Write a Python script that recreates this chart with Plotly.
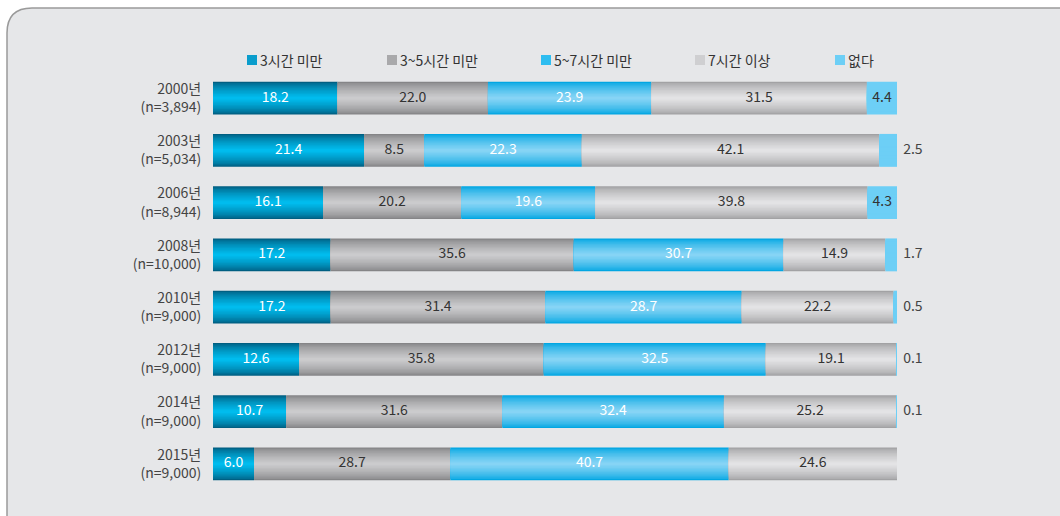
import plotly.graph_objects as go

# ---------------- data ----------------
years = ["2000년", "2003년", "2006년", "2008년", "2010년", "2012년", "2014년", "2015년"]
samples = ["n=3,894", "n=5,034", "n=8,944", "n=10,000", "n=9,000", "n=9,000", "n=9,000", "n=9,000"]
series_names = ["3시간 미만", "3~5시간 미만", "5~7시간 미만", "7시간 이상", "없다"]
under3 = [18.2, 21.4, 16.1, 17.2, 17.2, 12.6, 10.7, 6.0]
h3to5 = [22.0, 8.5, 20.2, 35.6, 31.4, 35.8, 31.6, 28.7]
h5to7 = [23.9, 22.3, 19.6, 30.7, 28.7, 32.5, 32.4, 40.7]
over7 = [31.5, 42.1, 39.8, 14.9, 22.2, 19.1, 25.2, 24.6]
none_ = [4.4, 2.5, 4.3, 1.7, 0.5, 0.1, 0.1, 0.0]

series_values = [under3, h3to5, h5to7, over7, none_]

# ---------------- styles ----------------
edge_colors = ["#005f82", "#858587", "#02a6e2", "#a2a2a4", "#6dcff6"]
center_colors = ["#00bcee", "#cbcbcd", "#86d4f5", "#e3e3e5", "#6dcff6"]
legend_colors = ["#0a9dcc", "#a9a9ab", "#2ebdf0", "#cfcfd1", "#6dcff6"]
label_colors = ["white", "#333333", "white", "#333333", "#333333"]

FONT = "Noto Sans CJK KR"
FS = 14
W, H = 1060, 516
PL, PR, PT, PB = 213, 897, 72, 490  # 0%..100% bar span and row band in pixels
PR_AREA = 980                       # right edge of the plot area (room for outside labels)
X_MAX = 100 * (PR_AREA - PL) / (PR - PL)

categories = [f"{y}<br>({n})" for y, n in zip(years, samples)]


def hex2rgb(h):
    h = h.lstrip("#")
    return tuple(int(h[i:i + 2], 16) for i in (0, 2, 4))


def mix(c1, c2, t):
    a, b = hex2rgb(c1), hex2rgb(c2)
    return "rgb(%d,%d,%d)" % tuple(round(a[i] + (b[i] - a[i]) * t) for i in range(3))


def px_x(p):
    return (p - PL) / (PR_AREA - PL)


def px_y(p):
    return (PB - p) / (PB - PT)


# normalise each row to 100% of the bar length
row_tot = [sum(s[i] for s in series_values) for i in range(len(years))]
norm = [[s[i] / row_tot[i] * 100 for i in range(len(years))] for s in series_values]
bases = []
acc = [0.0] * len(years)
for s in norm:
    bases.append(acc[:])
    acc = [acc[i] + s[i] for i in range(len(years))]

fig = go.Figure()

BAR_W = 0.63
N = 12
for si, s in enumerate(norm):
    for k in range(N):
        t = (k / (N - 1)) ** 0.7
        w = BAR_W * (1 - k / N)
        fig.add_trace(go.Bar(
            orientation="h",
            x=s, y=categories, base=bases[si], width=w,
            marker=dict(color=mix(edge_colors[si], center_colors[si], t), line=dict(width=0)),
            hoverinfo="skip", showlegend=False,
        ))

# value labels
for si, vals in enumerate(series_values):
    xin, yin, tin = [], [], []
    xout, yout, tout = [], [], []
    for i, v in enumerate(vals):
        if v <= 0:
            continue
        if si == 4 and v < 3:
            xout.append(bases[si][i] + norm[si][i])
            yout.append(categories[i])
            tout.append(f"{v:.1f}")
        else:
            xin.append(bases[si][i] + norm[si][i] / 2)
            yin.append(categories[i])
            tin.append(f"{v:.1f}")
    if xin:
        fig.add_trace(go.Scatter(x=xin, y=yin, text=tin, mode="text", textposition="middle center",
                                 textfont=dict(family=FONT, size=FS, color=label_colors[si]),
                                 hoverinfo="skip", showlegend=False, cliponaxis=False))
    if xout:
        fig.add_trace(go.Scatter(x=[x + 0.9 for x in xout], y=yout, text=tout, mode="text",
                                 textposition="middle right",
                                 textfont=dict(family=FONT, size=FS, color="#444444"),
                                 hoverinfo="skip", showlegend=False, cliponaxis=False))

# background rounded panel
r = 25
x0, y0, x1, y1 = 7, 8, 1090, 540
path = (
    f"M {px_x(x0)},{px_y(y1)} L {px_x(x0)},{px_y(y0 + r)} "
    f"Q {px_x(x0)},{px_y(y0)} {px_x(x0 + r)},{px_y(y0)} "
    f"L {px_x(x1)},{px_y(y0)} L {px_x(x1)},{px_y(y1)} Z"
)
shapes = [dict(type="path", path=path, xref="paper", yref="paper", layer="below",
               fillcolor="#e6e7e9", line=dict(color="#9a9a9a", width=1.5))]

# custom legend
legend_x = [247, 387, 541, 695, 835]
annotations = []
for i, name in enumerate(series_names):
    lx = legend_x[i]
    shapes.append(dict(type="rect", xref="paper", yref="paper",
                       x0=px_x(lx), x1=px_x(lx + 10), y0=px_y(65), y1=px_y(55),
                       fillcolor=legend_colors[i], line=dict(width=0)))
    annotations.append(dict(x=px_x(lx + 10.5), y=px_y(60), xref="paper", yref="paper",
                            text=name, showarrow=False, xanchor="left", yanchor="middle",
                            font=dict(family=FONT, size=FS, color="#333333")))

fig.update_layout(
    width=W, height=H,
    margin=dict(l=PL, r=W - PR_AREA, t=PT, b=H - PB, pad=0),
    barmode="overlay",
    paper_bgcolor="white",
    plot_bgcolor="rgba(0,0,0,0)",
    showlegend=False,
    shapes=shapes,
    annotations=annotations,
    font=dict(family=FONT, size=FS, color="#444444"),
    xaxis=dict(range=[0, X_MAX], visible=False, fixedrange=True),
    yaxis=dict(type="category", categoryorder="array", categoryarray=categories,
               range=[len(categories) - 0.5, -0.5], showgrid=False, zeroline=False,
               showline=False, ticks="outside", ticklen=8, tickcolor="rgba(0,0,0,0)",
               tickfont=dict(family=FONT, size=FS, color="#444444"), fixedrange=True),
)

fig.write_html("out.html", config={"displayModeBar": False},
               post_script="document.body.style.margin='0';document.body.style.overflow='hidden';")
